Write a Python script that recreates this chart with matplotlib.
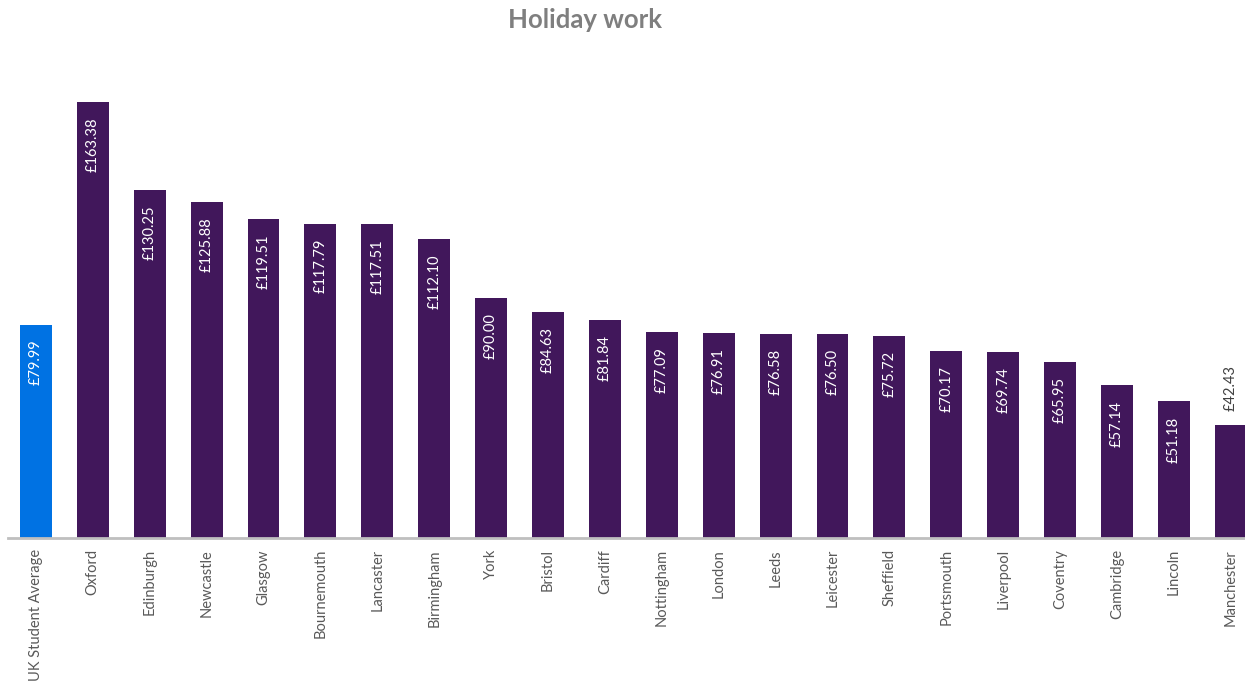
import matplotlib.pyplot as plt

cities = ['UK Student Average', 'Oxford', 'Edinburgh', 'Newcastle', 'Glasgow',
          'Bournemouth', 'Lancaster', 'Birmingham', 'York', 'Bristol', 'Cardiff',
          'Nottingham', 'London', 'Leeds', 'Leicester', 'Sheffield', 'Portsmouth',
          'Liverpool', 'Coventry', 'Cambridge', 'Lincoln', 'Manchester']
earnings = [79.99, 163.38, 130.25, 125.88, 119.51, 117.79, 117.51, 112.10, 90.00,
            84.63, 81.84, 77.09, 76.91, 76.58, 76.50, 75.72, 70.17, 69.74, 65.95,
            57.14, 51.18, 42.43]

plt.rcParams['font.family'] = ['Lato', 'DejaVu Sans']

blue = '#0072E3'
purple = '#41175B'
colors = [blue] + [purple] * (len(cities) - 1)

fig = plt.figure(figsize=(12.45, 6.83), dpi=100)
ax = fig.add_axes([7.5 / 1245, 145 / 683, 1237.5 / 1245, 480.4 / 683])

pos = range(len(cities))
bars = ax.bar(pos, earnings, width=0.56, color=colors, zorder=2)

for i, (bar, v) in enumerate(zip(bars, earnings)):
    label = '£%.2f' % v
    if i == len(cities) - 1:
        ax.annotate(label, (bar.get_x() + bar.get_width() / 2, v), xytext=(0, 10),
                    textcoords='offset points', rotation=90, ha='center', va='bottom',
                    color='#404040', fontsize=10.5)
    else:
        ax.annotate(label, (bar.get_x() + bar.get_width() / 2, v), xytext=(0, -11),
                    textcoords='offset points', rotation=90, ha='center', va='top',
                    color='white', fontsize=10.5)

ax.set_xlim(-0.5, 21.25)
ax.set_ylim(0, 180)
ax.set_xticks(list(pos))
ax.set_xticklabels(cities, rotation=90, color='#595959', fontsize=10.5)
ax.tick_params(axis='x', length=0, pad=8)
ax.set_yticks([])
for s in ['top', 'right', 'left']:
    ax.spines[s].set_visible(False)
ax.spines['bottom'].set_color('#BFBFBF')
ax.spines['bottom'].set_linewidth(2)
ax.spines['bottom'].set_zorder(3)

fig.text(0.47, 0.97, 'Holiday work', ha='center', va='center', fontsize=18.5,
         fontweight='bold', color='#7F7F7F')

fig.savefig('out.png', dpi=100)
